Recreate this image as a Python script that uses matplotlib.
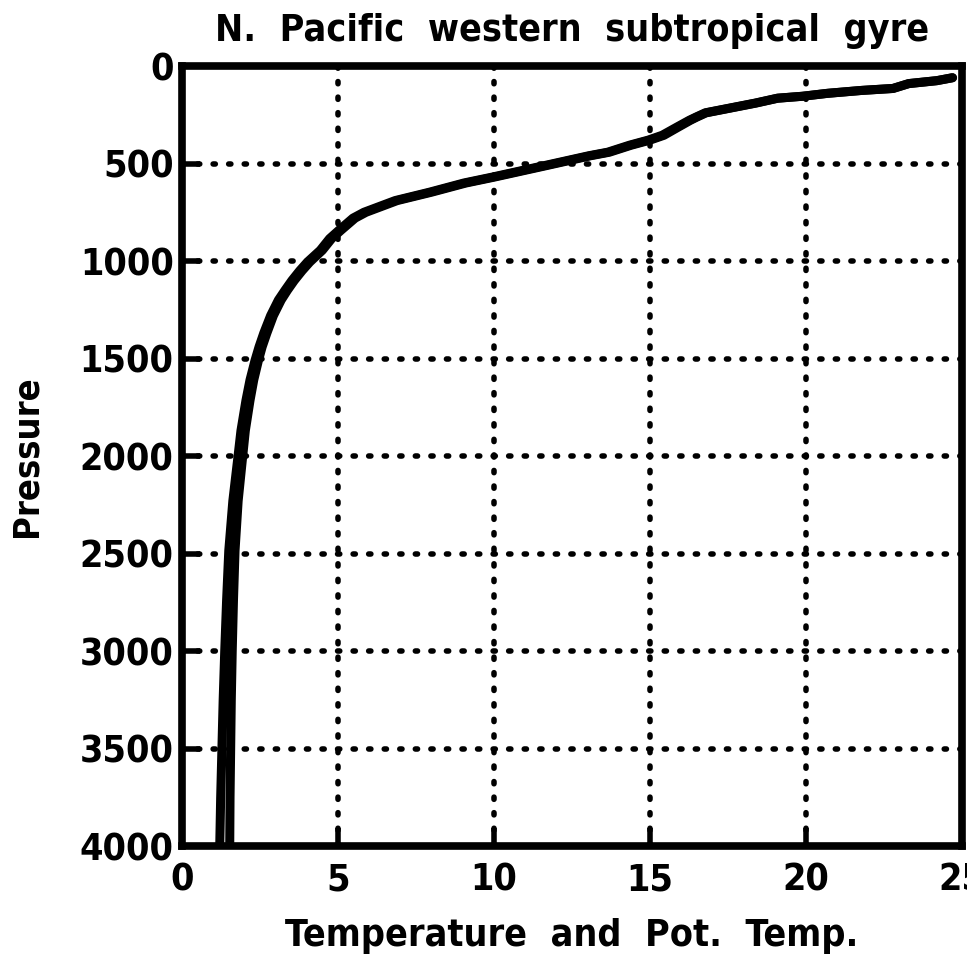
import matplotlib
matplotlib.use("Agg")
import matplotlib.pyplot as plt

# pressure levels (dbar) and the two temperature profiles (deg C)
pressure = [60, 75, 90, 115, 125, 140, 155, 165, 190, 215, 240, 262, 278, 314,
            355, 380, 406, 442, 460, 510, 570, 600, 647, 690, 750, 780, 842,
            885, 945, 1005, 1050, 1100, 1150, 1200, 1280, 1370, 1440, 1510,
            1610, 1715, 1870, 2010, 2230, 2485, 2740, 3000, 3250, 3500, 3750,
            4000]
temperature = [24.7, 24.2, 23.3, 22.8, 21.8, 20.7, 19.9, 19.1, 18.4, 17.6, 16.8,
               16.5, 16.3, 15.9, 15.45, 15.0, 14.4, 13.7, 13.1, 11.7, 10.0,
               9.1, 8.0, 6.9, 5.9, 5.55, 5.1, 4.8, 4.5, 4.1, 3.85, 3.6, 3.38,
               3.18, 2.93, 2.72, 2.57, 2.45, 2.3, 2.18, 2.03, 1.94, 1.80, 1.70,
               1.65, 1.61, 1.58, 1.56, 1.54, 1.53]
pot_temp = [24.69, 24.19, 23.29, 22.78, 21.78, 20.68, 19.88, 19.08, 18.37,
            17.57, 16.77, 16.47, 16.26, 15.85, 15.39, 14.94, 14.34, 13.64,
            13.04, 11.63, 9.93, 9.03, 7.93, 6.83, 5.83, 5.48, 5.03, 4.73, 4.43,
            4.02, 3.77, 3.52, 3.3, 3.09, 2.84, 2.62, 2.47, 2.34, 2.18, 2.05,
            1.89, 1.79, 1.63, 1.50, 1.43, 1.37, 1.32, 1.28, 1.24, 1.21]

x_ticks = [0, 5, 10, 15, 20, 25]
y_ticks = [0, 500, 1000, 1500, 2000, 2500, 3000, 3500, 4000]

plt.rcParams["font.family"] = "DejaVu Sans"
plt.rcParams["font.weight"] = "bold"
plt.rcParams["font.stretch"] = "condensed"

fig = plt.figure(figsize=(9.67, 9.64), dpi=100)
ax = fig.add_axes([0.1882, 0.1224, 0.8066, 0.8091])

for series in (temperature, pot_temp):
    ax.plot(series, pressure, color="black", lw=6.5, solid_capstyle="round",
            solid_joinstyle="round", zorder=3)

ax.set_xlim(0, 25)
ax.set_ylim(4000, 0)
ax.set_xticks(x_ticks)
ax.set_yticks(y_ticks)

# dotted grid on interior ticks only
for x in x_ticks[1:-1]:
    ax.axvline(x, color="black", lw=4, ls=(0, (0.4, 2.4)),
               dash_capstyle="round", zorder=1)
for y in y_ticks[1:-1]:
    ax.axhline(y, color="black", lw=4, ls=(0, (0.4, 2.4)),
               dash_capstyle="round", zorder=1)

for s in ax.spines.values():
    s.set_linewidth(5.5)
ax.tick_params(direction="in", length=13, width=4, labelsize=27, pad=6)
ax.tick_params(axis="x", pad=12)

ax.set_title("N.  Pacific  western  subtropical  gyre", fontsize=27,
             fontweight="bold", pad=18)
ax.set_xlabel("Temperature  and  Pot.  Temp.", fontsize=27, fontweight="bold",
              labelpad=14)
ax.set_ylabel("Pressure", fontsize=26, fontweight="bold", labelpad=26)

fig.savefig("out.png", dpi=100)
